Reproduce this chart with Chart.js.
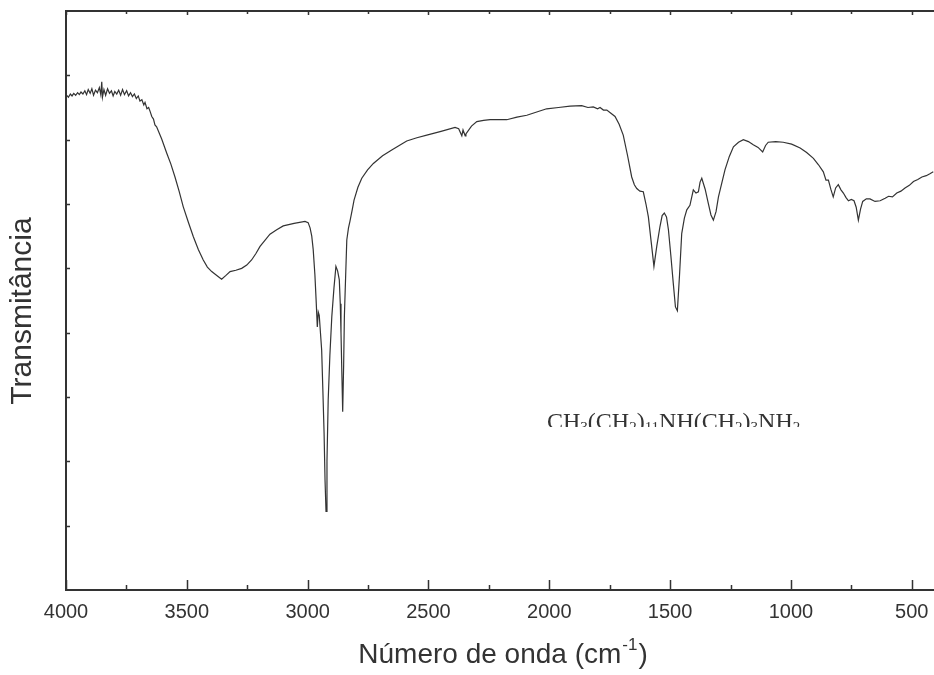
<!DOCTYPE html>
<html>
<head>
<meta charset="utf-8">
<script src="https://cdn.jsdelivr.net/npm/chart.js@4"></script>
<style>
  body { margin: 0; background: #fff; }
  #wrap { width: 934px; height: 675px; }
</style>
</head>
<body>
<div id="wrap"><canvas id="ir_chart"></canvas></div>
<script>
// Numero de onda (cm-1) et transmittance (unites arbitraires)
var wavenumbers = [
  3997, 3990, 3982, 3975, 3968, 3960, 3952, 3945, 3938, 3930, 3922, 3915, 3908, 3900, 3893, 3886,
  3878, 3870, 3862, 3856, 3852, 3849, 3843, 3836, 3828, 3820, 3812, 3805, 3798, 3790, 3782, 3774,
  3766, 3758, 3749, 3741, 3733, 3725, 3717, 3709, 3701, 3694, 3686, 3678, 3673, 3665, 3658, 3652,
  3645, 3638, 3632, 3625, 3604, 3583, 3566, 3549, 3532, 3515, 3494, 3473, 3452, 3432, 3415, 3397,
  3376, 3356, 3338, 3321, 3297, 3273, 3252, 3232, 3214, 3197, 3176, 3156, 3128, 3101, 3056, 3011,
  2998, 2990, 2983, 2977, 2970, 2965, 2960, 2956, 2952, 2947, 2942, 2937, 2932, 2928, 2924, 2920,
  2915, 2908, 2900, 2891, 2883, 2876, 2869, 2865, 2862, 2858, 2855, 2851, 2848, 2843, 2838, 2831,
  2825, 2816, 2808, 2792, 2776, 2752, 2728, 2690, 2652, 2621, 2590, 2548, 2507, 2448, 2390, 2375,
  2362, 2357, 2352, 2348, 2345, 2322, 2300, 2272, 2245, 2210, 2176, 2134, 2093, 2052, 2011, 1962,
  1914, 1866, 1840, 1818, 1800, 1790, 1776, 1762, 1745, 1728, 1711, 1694, 1676, 1659, 1648, 1638,
  1625, 1611, 1600, 1590, 1578, 1567, 1555, 1542, 1533, 1524, 1515, 1507, 1497, 1487, 1478, 1470,
  1461, 1452, 1441, 1431, 1418, 1404, 1393, 1383, 1376, 1369, 1355, 1342, 1331, 1321, 1310, 1300,
  1286, 1273, 1255, 1238, 1217, 1197, 1176, 1156, 1136, 1117, 1105, 1094, 1063, 1032, 997, 962,
  935, 907, 886, 866, 855, 845, 835, 825, 815, 804, 793, 783, 772, 762, 750, 739,
  730, 721, 712, 703, 688, 673, 652, 631, 610, 596, 580, 562, 545, 528, 510, 493,
  475, 458, 440, 425, 411
];
var transmittance = [
  76.9, 76.6, 77.1, 76.8, 77.2, 76.9, 77.3, 77.0, 77.4, 77.1, 77.6, 77.0, 77.8, 77.2, 77.9, 76.9,
  77.7, 77.3, 78.1, 77.0, 79.0, 76.6, 77.8, 76.9, 77.9, 77.2, 77.6, 76.8, 77.5, 77.1, 77.7, 76.9,
  77.8, 77.0, 77.6, 76.8, 77.3, 76.7, 77.1, 76.4, 76.8, 76.0, 76.2, 75.4, 75.8, 74.8, 75.0, 74.4,
  73.6, 73.2, 72.3, 72.0, 70.1, 67.9, 66.2, 64.2, 62.0, 59.6, 57.2, 54.9, 52.9, 51.3, 50.2, 49.5,
  48.9, 48.3, 48.9, 49.5, 49.7, 50.0, 50.5, 51.3, 52.3, 53.4, 54.4, 55.3, 56.0, 56.6, 57.0, 57.3,
  57.1, 56.3, 55.0, 52.9, 49.0, 45.1, 40.9, 43.2, 42.7, 40.0, 37.3, 31.0, 24.4, 17.0, 12.2, 20.0,
  29.5, 36.5, 42.5, 47.0, 50.3, 49.6, 48.2, 44.5, 40.0, 33.0, 27.7, 35.0, 42.5, 48.5, 54.4, 56.3,
  57.3, 59.0, 60.6, 62.6, 64.0, 65.3, 66.3, 67.5, 68.4, 69.1, 69.8, 70.3, 70.7, 71.3, 71.9, 71.7,
  70.6, 71.5, 71.0, 70.6, 70.9, 72.1, 72.8, 73.0, 73.1, 73.1, 73.1, 73.5, 73.8, 74.3, 74.8, 75.0,
  75.2, 75.3, 75.0, 75.1, 74.8, 75.0, 74.6, 74.6, 74.1, 73.6, 72.4, 70.7, 67.5, 64.2, 63.0, 62.4,
  62.0, 61.9, 60.0, 58.0, 54.0, 50.3, 53.5, 56.5, 58.2, 58.6, 58.0, 56.0, 52.0, 47.7, 44.0, 43.4,
  49.0, 55.4, 57.8, 59.1, 59.8, 62.2, 61.7, 61.9, 63.4, 64.0, 62.3, 60.1, 58.3, 57.5, 58.8, 61.1,
  63.3, 65.3, 67.4, 68.9, 69.6, 70.0, 69.7, 69.2, 68.8, 68.1, 69.1, 69.6, 69.7, 69.6, 69.3, 68.7,
  68.0, 67.1, 66.1, 65.0, 63.7, 63.7, 62.3, 61.1, 62.5, 63.0, 62.2, 61.7, 61.0, 60.5, 60.7, 60.5,
  59.5, 57.5, 59.2, 60.4, 60.8, 60.8, 60.4, 60.5, 60.9, 61.2, 61.1, 61.7, 62.0, 62.5, 62.9, 63.5,
  63.8, 64.2, 64.4, 64.7, 65.0
];
var xTickValues = [4000, 3500, 3000, 2500, 2000, 1500, 1000, 500];
var xMinorValues = [3750, 3250, 2750, 2250, 1750, 1250, 750];
var yTickValues = [10, 20, 30, 40, 50, 60, 70, 80];
var xTitle = 'Número de onda (cm';
var yTitle = 'Transmitância';
var compoundParts = [['CH', 0], ['3', 1], ['(CH', 0], ['2', 1], [')', 0], ['11', 1],
                     ['NH(CH', 0], ['2', 1], [')', 0], ['3', 1], ['NH', 0], ['2', 1]];

var points = wavenumbers.map(function (w, i) { return {x: w, y: transmittance[i]}; });

// cadre, graduations et textes
const framePlugin = {
  id: 'frame',
  afterDraw: function (chart) {
    const ctx = chart.ctx;
    const a = chart.chartArea;
    const xs = chart.scales.x, ys = chart.scales.y;
    ctx.save();
    ctx.strokeStyle = '#333';
    ctx.fillStyle = '#333';
    ctx.lineWidth = 2;
    ctx.beginPath();
    ctx.moveTo(a.right + 5, a.top); ctx.lineTo(a.left, a.top);
    ctx.lineTo(a.left, a.bottom); ctx.lineTo(a.right + 5, a.bottom);
    ctx.stroke();

    ctx.lineWidth = 1.5;
    ctx.beginPath();
    xTickValues.forEach(function (v) {
      const px = Math.round(xs.getPixelForValue(v)) + 0.5;
      ctx.moveTo(px, a.bottom); ctx.lineTo(px, a.bottom - 10);
      ctx.moveTo(px, a.top); ctx.lineTo(px, a.top + 4);
    });
    xMinorValues.forEach(function (v) {
      const px = Math.round(xs.getPixelForValue(v)) + 0.5;
      ctx.moveTo(px, a.bottom); ctx.lineTo(px, a.bottom - 5);
      ctx.moveTo(px, a.top); ctx.lineTo(px, a.top + 3);
    });
    yTickValues.forEach(function (v) {
      const py = Math.round(ys.getPixelForValue(v)) + 0.5;
      ctx.moveTo(a.left, py); ctx.lineTo(a.left + 4, py);
    });
    ctx.stroke();

    ctx.font = '20px "Liberation Sans", Arial, sans-serif';
    ctx.textAlign = 'center';
    ctx.textBaseline = 'middle';
    xTickValues.forEach(function (v) {
      ctx.fillText(String(v), xs.getPixelForValue(v), a.bottom + 22);
    });

    // titre axe x avec exposant
    const big = '28px "Liberation Sans", Arial, sans-serif';
    const small = '17px "Liberation Sans", Arial, sans-serif';
    ctx.textAlign = 'left';
    ctx.textBaseline = 'alphabetic';
    ctx.font = big;
    const w1 = ctx.measureText(xTitle).width;
    const w3 = ctx.measureText(')').width;
    ctx.font = small;
    const w2 = ctx.measureText('-1').width;
    let x0 = 502 - (w1 + w2 + w3) / 2;
    const base = 663;
    ctx.font = big; ctx.fillText(xTitle, x0, base);
    ctx.font = small; ctx.fillText('-1', x0 + w1 + 1, base - 13);
    ctx.font = big; ctx.fillText(')', x0 + w1 + w2 + 2, base);

    // titre axe y
    ctx.save();
    ctx.translate(23, 311);
    ctx.rotate(-Math.PI / 2);
    ctx.textAlign = 'center';
    ctx.textBaseline = 'middle';
    ctx.font = '30px "Liberation Sans", Arial, sans-serif';
    ctx.fillText(yTitle, 0, 0);
    ctx.restore();

    // formule (coupee en bas comme sur l'original)
    ctx.save();
    ctx.beginPath();
    ctx.rect(500, 380, 350, 47);
    ctx.clip();
    let cx = 547;
    const fb = 429;
    compoundParts.forEach(function (p) {
      ctx.font = p[1] ? '15px "Liberation Serif", "Times New Roman", serif'
                      : '24px "Liberation Serif", "Times New Roman", serif';
      ctx.fillText(p[0], cx, p[1] ? fb + 3 : fb);
      cx += ctx.measureText(p[0]).width;
    });
    ctx.restore();
    ctx.restore();
  }
};

const config_ir_chart = {
  type: 'scatter',
  data: {
    datasets: [{
      label: 'IR',
      data: points,
      showLine: true,
      borderColor: '#333',
      borderWidth: 1.2,
      pointRadius: 0,
      tension: 0
    }]
  },
  options: {
    responsive: true,
    maintainAspectRatio: false,
    animation: false,
    layout: { padding: { left: 66, top: 11, right: 0, bottom: 85 } },
    plugins: { legend: { display: false }, tooltip: { enabled: false } },
    scales: {
      x: { type: 'linear', reverse: true, min: 408, max: 4000, display: false },
      y: { type: 'linear', min: 0, max: 90, display: false }
    }
  },
  plugins: [framePlugin]
};

const ir_chart = new Chart(document.getElementById('ir_chart'), config_ir_chart);
</script>
</body>
</html>
